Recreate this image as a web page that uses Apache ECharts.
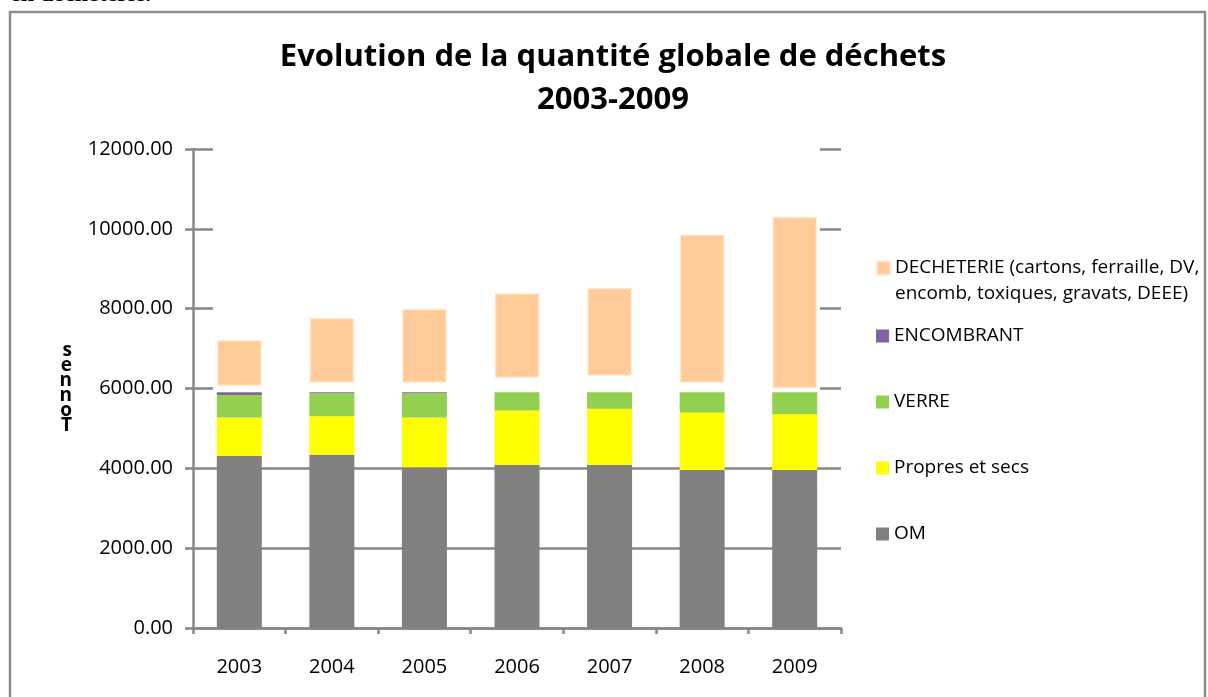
<!DOCTYPE html>
<html>
<head>
<meta charset="utf-8">
<title>Evolution de la quantité globale de déchets</title>
<script src="https://cdn.jsdelivr.net/npm/echarts@6/dist/echarts.min.js"></script>
<style>
  html, body { margin: 0; padding: 0; background: #fff; }
  #main { width: 1208px; height: 697px; }
</style>
</head>
<body>
<div id="main"></div>
<script>
// données (tonnes)
var annees = ['2003', '2004', '2005', '2006', '2007', '2008', '2009'];
var om = [4307, 4340, 4025, 4082, 4082, 3957, 3957];
var propres = [968, 967, 1250, 1368, 1408, 1443, 1400];
var verre = [565, 575, 607, 457, 417, 507, 550];
var encombrant = [67, 25, 25, 0, 0, 0, 0];
// espace blanc entre la pile et la déchèterie
var ecart = [150, 233, 233, 358, 408, 233, 93];
var decheterie = [1163, 1635, 1860, 2125, 2210, 3717, 4307];
// graduations de l'axe vertical
var yMin = 0, yMax = 12000, yPas = 2000;

var police = '"Open Sans", "DejaVu Sans", sans-serif';
var gris = '#868686';
var nomDech = 'DECHETERIE (cartons, ferraille, DV, encomb, toxiques, gravats, DEEE)';

var myChart = echarts.init(document.getElementById('main'));

var option = {
  animation: false,
  textStyle: { fontFamily: police },
  title: {
    text: 'Evolution de la quantité globale de déchets\n2003-2009',
    left: 613,
    top: 36,
    padding: 0,
    textAlign: 'center',
    textStyle: {
      fontFamily: police,
      fontSize: 31,
      fontWeight: 'bold',
      color: '#000',
      lineHeight: 43
    }
  },
  legend: [
    {
      // déchèterie, sur deux lignes (ligne vide devant pour caler le carré sur la 1re ligne)
      data: [nomDech],
      orient: 'vertical',
      left: 876,
      top: 229,
      padding: 0,
      itemWidth: 13,
      itemHeight: 13,
      icon: 'rect',
      selectedMode: false,
      formatter: function (name) {
        return '\n' + name.replace('DV, ', 'DV,\n');
      },
      textStyle: { fontFamily: police, fontSize: 19, color: '#000', lineHeight: 26 }
    },
    {
      data: ['ENCOMBRANT', 'VERRE', 'Propres et secs', 'OM'],
      orient: 'vertical',
      left: 876,
      top: 323,
      padding: 0,
      itemGap: 40,
      itemWidth: 13,
      itemHeight: 13,
      icon: 'rect',
      selectedMode: false,
      textStyle: { fontFamily: police, fontSize: 19, color: '#000', lineHeight: 26 }
    }
  ],
  grid: {
    left: 193,
    right: 367,
    top: 149,
    bottom: 69
  },
  xAxis: {
    type: 'category',
    data: annees,
    axisLine: { lineStyle: { color: gris, width: 2.5 } },
    axisTick: { show: true, length: 6, lineStyle: { color: gris, width: 2.5 } },
    axisLabel: { color: '#000', fontSize: 20, fontFamily: police, margin: 29 }
  },
  yAxis: {
    type: 'value',
    min: yMin,
    max: yMax,
    interval: yPas,
    name: 's\ne\nn\nn\no\nT',
    nameLocation: 'middle',
    nameRotate: 0,
    nameGap: 121,
    nameTextStyle: { color: '#000', fontSize: 19, fontWeight: 'bold', lineHeight: 15, fontFamily: police },
    axisLine: { show: true, lineStyle: { color: gris, width: 2.5 } },
    axisTick: { show: true, length: 8, lineStyle: { color: gris, width: 2.5 } },
    axisLabel: {
      color: '#000',
      fontSize: 20,
      fontFamily: police,
      margin: 20,
      formatter: function (v) { return v.toFixed(2); }
    },
    splitLine: { show: true, lineStyle: { color: gris, width: 2.5 } }
  },
  series: [
    {
      name: 'OM', type: 'bar', stack: 'total', barWidth: 45,
      itemStyle: { color: '#808080' },
      data: om
    },
    {
      name: 'Propres et secs', type: 'bar', stack: 'total',
      itemStyle: { color: '#ffff00' },
      data: propres
    },
    {
      name: 'VERRE', type: 'bar', stack: 'total',
      itemStyle: { color: '#92d050' },
      data: verre
    },
    {
      name: 'ENCOMBRANT', type: 'bar', stack: 'total',
      itemStyle: { color: '#8064a2' },
      data: encombrant
    },
    {
      name: 'ecart', type: 'bar', stack: 'total', silent: true,
      itemStyle: { color: 'rgba(0,0,0,0)' },
      data: ecart
    },
    {
      name: nomDech, type: 'bar', stack: 'total',
      itemStyle: { color: '#ffcc99', borderColor: '#ffe2c6', borderWidth: 2, borderType: 'dotted' },
      data: decheterie
    }
  ]
};
myChart.setOption(option);

// cadre, texte coupé en haut, et masque des lignes du haut (collage blanc)
var yBas = myChart.convertToPixel({ yAxisIndex: 0 }, 5900);
var yHaut = myChart.convertToPixel({ yAxisIndex: 0 }, yMax) - 4;
myChart.setOption({
  graphic: [
    {
      type: 'rect', silent: true, z: 1,
      shape: { x: 213, y: yHaut, width: 607, height: yBas - yHaut },
      style: { fill: '#fff' }
    },
    {
      type: 'rect', silent: true, z: 0,
      shape: { x: 10, y: 12, width: 1195, height: 700 },
      style: { fill: 'none', stroke: '#8c8c8c', lineWidth: 2.5 }
    },
    {
      type: 'text', silent: true,
      x: 10, y: 7,
      style: { text: 'en déchèterie.', font: 'bold 24px "Liberation Serif", serif', fill: '#000', verticalAlign: 'bottom' }
    }
  ]
});
</script>
</body>
</html>
